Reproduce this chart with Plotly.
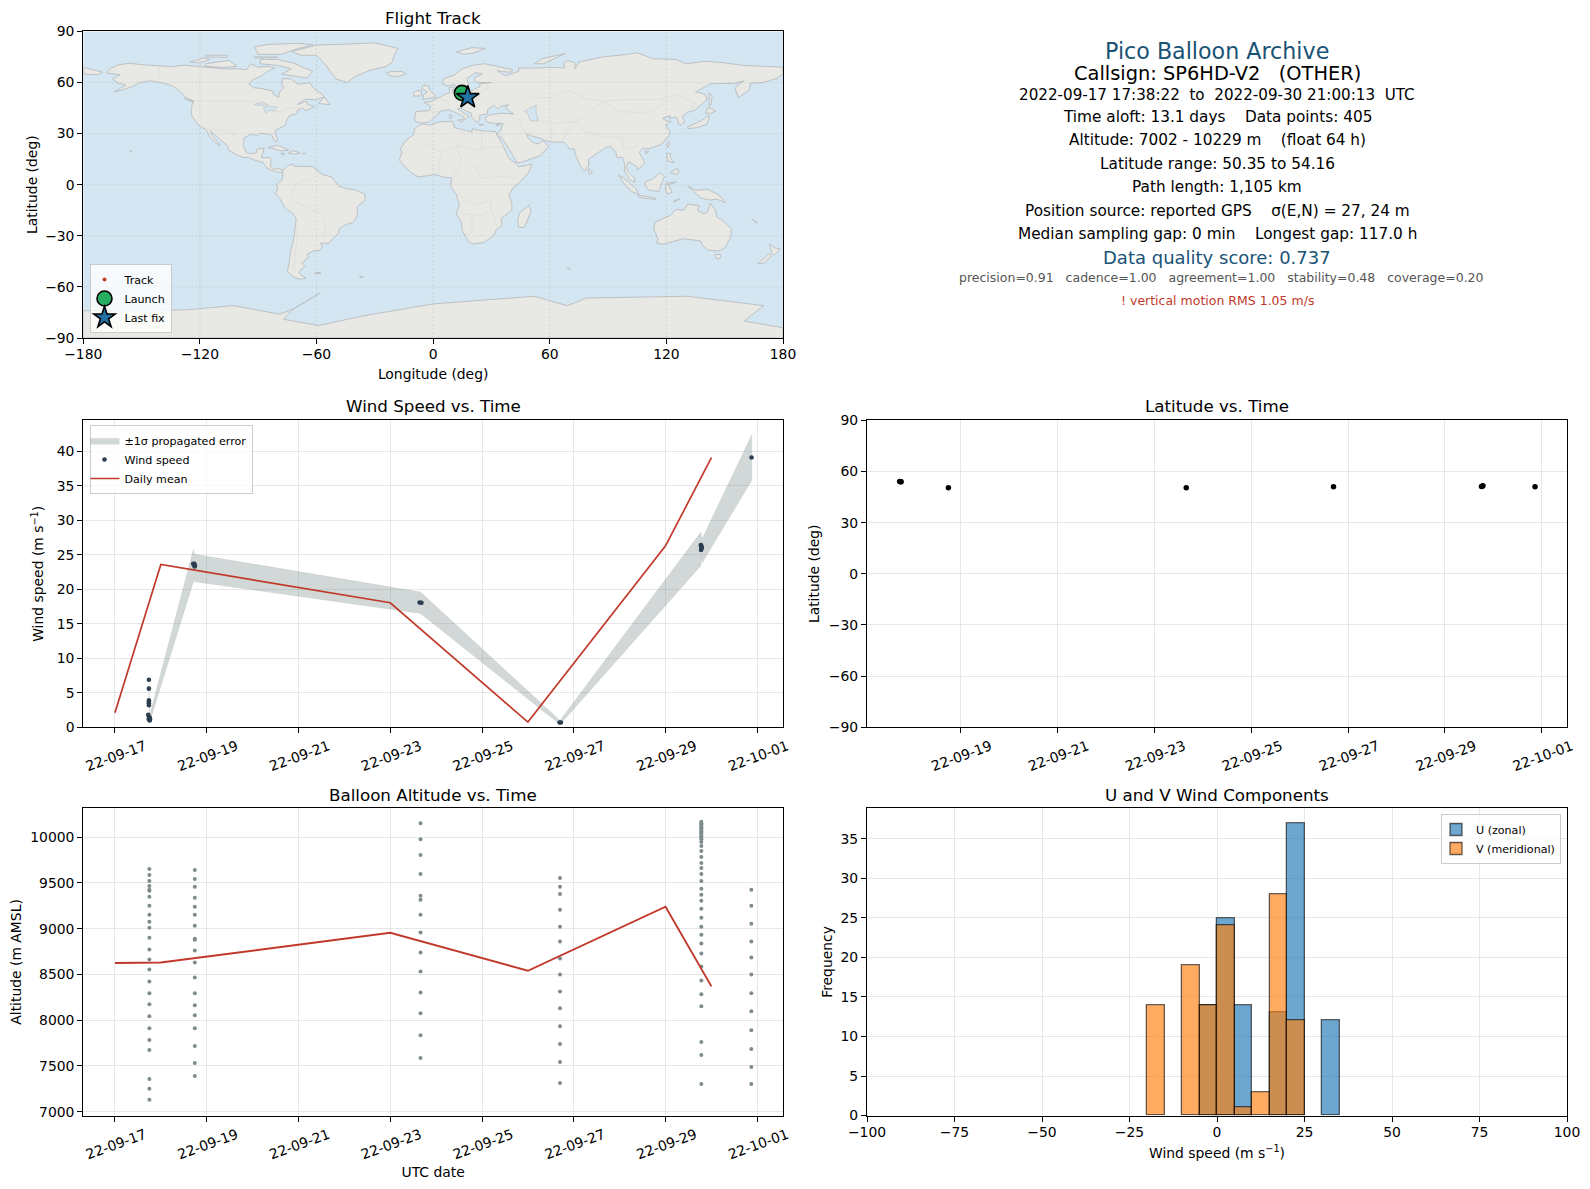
import pandas as pd
import plotly.graph_objects as go

FONT = "DejaVu Sans"
W, H = 1590, 1189
RED = "#c0392b"; NAVY = "#2c3e50"; GREY = "#7f8c8d"; BLUE = "#1a5276"
OCEAN = "#d4e6f1"; LAND = "#e8e8e4"; COAST = "#bcc1c4"; BORDER = "#dcdcd8"
GRID = "rgba(176,176,176,0.3)"

# ---------- world outlines (lon, lat) ----------
north_america = [(-168,65.6),(-166,68.3),(-162,70.3),(-156.5,71.3),(-150,70.5),(-141,69.6),(-135,69.3),(-128,70.2),(-124,69.8),(-115,68.5),(-108,68),(-100,68),(-96,67.5),(-94,71),(-90,69),(-85,69.5),(-81.5,68.5),(-86,66),(-88,64),(-93,61.5),(-94.8,59),(-92.5,57),(-88,56.4),(-82.5,55),(-82,52.8),(-79.5,51.3),(-79,54.5),(-76.8,57),(-78,59),(-77.5,62.4),(-73,62),(-69.5,59),(-65.5,59.5),(-64,60.3),(-61,56),(-57,53),(-56,51.5),(-60,50),(-66,50.2),(-70,47),(-65,49),(-64.5,47),(-61,46),(-65.5,43.5),(-67,45),(-70,43.5),(-70,41.7),(-74,40.5),(-75.5,37.5),(-76,35),(-78,33.8),(-81,32),(-81.3,30),(-80,26.8),(-80.3,25.2),(-81.8,26),(-83,29),(-85,29.7),(-89,30.2),(-90,29.1),(-94,29.5),(-97.3,27.5),(-97.7,22.5),(-96,19),(-94,18.2),(-91,18.7),(-90.5,21),(-87,21.5),(-87.8,18),(-88.5,16),(-84,15.8),(-83.3,14.8),(-83.8,11),(-82,9),(-79.5,9.5),(-77.3,8.6),(-78,7.3),(-80,7.3),(-81,7.8),(-83,8.3),(-85.7,10),(-87.5,13),(-92,14.5),(-95,16),(-98,16),(-102,18),(-105.5,20.4),(-105.5,22.5),(-109,26),(-112.8,30),(-114.7,31.7),(-114.5,30),(-112,27),(-110,24),(-109.5,23),(-112,24.7),(-115,28),(-117,32.5),(-120.5,34.5),(-122,37),(-124,40),(-124.5,43),(-124,47),(-123,49),(-127,51),(-130,54.5),(-134,58),(-140,60),(-146,61),(-151,60),(-154,58),(-160,55.5),(-164,54.6),(-158,58.5),(-162,59.5),(-165,62),(-161,64.5),(-168,65.6)]
greenland = [(-73,78.2),(-68,76),(-60,76),(-55,70),(-53,66.5),(-50,62),(-44,60),(-41,63),(-33,67),(-24,69.5),(-21,72),(-20,76),(-18,80),(-30,83.3),(-45,82.5),(-60,82),(-65,80.5),(-73,78.2)]
south_america = [(-77.3,8.6),(-75,11),(-72,12.2),(-71.5,10.8),(-68,10.8),(-62,10.7),(-60,8.5),(-57,6),(-52,4.5),(-50,1),(-48,-1),(-44,-2.5),(-40,-3),(-35.2,-5.5),(-35,-9),(-39,-13),(-39,-18),(-41,-22),(-45,-23.5),(-48.5,-26),(-48.7,-28.5),(-52,-32.5),(-54,-34.5),(-58,-34.3),(-57,-36.5),(-58,-38.5),(-62,-39),(-65,-41),(-64,-42.5),(-67.5,-46),(-66,-48),(-69,-51),(-68.5,-52.5),(-65.5,-55),(-69,-55.5),(-72,-54),(-75,-51),(-74,-45),(-73.5,-40),(-71.5,-30),(-70.5,-20),(-72,-17),(-76,-14),(-79,-8),(-81.3,-5),(-80,-2.5),(-80.5,0.5),(-78,2.5),(-77.3,5),(-77.5,7),(-77.3,8.6)]
africa = [(-6,35.8),(-2,35),(3,36.8),(10,37.3),(11,33.5),(15,32.3),(20,31),(20,32.8),(25,31.7),(32,31.2),(32.5,30),(34,27),(35.5,24),(37.3,20),(39,15.5),(43,12),(44,10.5),(51,12),(49,7),(45,2),(41,-2),(39,-6),(40.5,-11),(40.5,-15),(35,-20),(35.5,-24),(32.8,-26),(31,-30),(26,-34),(20,-34.8),(18,-33),(15,-27),(14.5,-22),(11.8,-17),(13.5,-12),(12,-6),(9,-1),(9.5,4),(6,4.3),(1,6),(-4,5.2),(-7.5,4.5),(-11,6.8),(-15,11),(-17.5,14.7),(-16,19),(-17,21),(-14,26),(-10,29.5),(-9.5,33),(-6,35.8)]
eurasia = [(-9,37),(-9.5,39),(-9,43),(-2,43.5),(-1.2,46),(-4.7,48.4),(-1.5,48.7),(1.5,50.5),(4,52),(7,53.5),(8.5,54),(8.2,57),(10.5,57.5),(10,54.5),(14,54),(19,54.5),(21,56),(24,57.5),(24,59.3),(30,60),(23,60),(21,61),(21.5,63),(25.3,65),(22,65.8),(17.5,62.5),(17.5,60.5),(18.5,59.5),(16.5,56.5),(14,55.5),(12.7,56),(11,59),(8,58),(5,59),(5,62),(11,64.5),(15,68),(20,70),(26,71),(31,70),(41,67.5),(40,66),(35,66.5),(33,67),(37,64),(40,65),(44,66.5),(44,68.5),(54,68.5),(60,69),(68,68.5),(67,71),(69,73),(73,71.5),(73,68),(75,72),(81,73.5),(87,75),(100,76.5),(105,77.5),(113,74),(125,73.5),(130,71),(140,72.5),(150,71.5),(160,70),(170,69.5),(180,69),(180,65),(177,62.5),(170,60),(163,59.5),(163,56),(162,55),(157,51),(155.5,56),(156,58),(160,61),(155,59.5),(143,59.3),(135,54.5),(140,53),(141,50),(135,44),(131,42.5),(128,40),(129.5,37),(127,34.7),(126,36.5),(126,38),(125,39.7),(121.5,39),(122,40.5),(118,39),(120,37.5),(122.5,37),(119.5,35),(122,31),(121,28),(117,23.5),(110.5,21),(108,21.5),(106,19),(109,13),(107,10.5),(105,8.7),(105,10.5),(102,12.5),(100.5,13.5),(99.5,11),(100,8),(103.5,4),(104,1.4),(101,3),(98.5,8),(98.5,12),(97.5,16),(94.5,16),(94,19),(91.5,22.5),(89,22),(86.5,20),(82,16.5),(80,15),(80,11),(77.5,8),(76,10.5),(73,18),(72.7,21),(70,21),(69,23),(67,25),(61,25),(57,26),(56,27),(51,28.5),(48,30),(48.5,28),(51,25),(54,24),(56.3,26),(59.5,22.5),(55,17),(45,13),(43,13),(39,21),(35,28),(34,27.8),(32.7,29.8),(34.5,31.5),(36,36),(32,36),(28,36.5),(26.5,39),(29,41),(35,42),(41.5,41.5),(38,44.5),(37,45.2),(39,47),(35,46),(33.5,44.5),(31,46.5),(28,44),(28,41.5),(24,40.8),(24,38),(22.5,36.5),(20,39.5),(19.5,42),(14,45),(12.5,44.5),(18.5,40),(16,38),(15.7,40),(10.5,43),(8,44),(3.3,43),(3,41.8),(0,39),(-2,36.8),(-6,36.2),(-9,37)]
chukotka = [(-180,69),(-175,67.5),(-170,66),(-173,64.5),(-180,65),(-180,69)]
australia = [(114,-22),(113.5,-26),(115.7,-32),(115,-34.3),(118,-35),(124,-33),(129,-31.7),(134,-32.5),(137.5,-33),(138.5,-35.5),(141,-38.3),(146.5,-39),(150,-37.3),(153,-31),(153.5,-26),(149,-21),(146,-19),(145.3,-15),(142.5,-11),(141,-16.5),(139,-17),(136,-15),(136.8,-12.2),(131,-11.5),(129,-15),(125,-14.5),(122,-18),(114,-22)]
antarctica = [(-180,-74),(-127,-73.5),(-103,-71),(-79,-76),(-72,-73),(-58,-63.5),(-62,-66),(-72,-73),(-77,-79),(-59,-82.7),(-36,-77),(0,-70),(52,-65.5),(69,-71),(79,-66.5),(131,-65.5),(170,-71),(160,-80),(180,-84),(180,-90),(-180,-90),(-180,-74)]
islands = [
 [(-80,73.5),(-72,71.5),(-67,69),(-62,66.5),(-65,62.5),(-71,63.5),(-78,65),(-73,68),(-80,70),(-89,71),(-89,73.5),(-80,73.5)],
 [(-117,71),(-105,73),(-101,69.5),(-108,68.8),(-117,69.5),(-117,71)],
 [(-90,76.5),(-78,76.5),(-72,79),(-62,82.3),(-70,83),(-85,82.3),(-92,81),(-90,76.5)],
 [(-125,72),(-118,74.5),(-115,73.5),(-120,71.5),(-125,72)],
 [(-92,75),(-80,75),(-80,74.5),(-92,74.5),(-92,75)],
 [(-117,76),(-106,76),(-106,74.8),(-117,75),(-117,76)],
 [(-59,47.7),(-56,51.5),(-53,47),(-59,47.7)],
 [(-128,50.8),(-124,49),(-123.5,48.5),(-128,50.8)],
 [(-85,21.8),(-80,23.2),(-74.2,20.2),(-78,19.9),(-85,21.8)],
 [(-74.4,18.5),(-72,20),(-68.4,18.6),(-71.5,17.8),(-74.4,18.5)],
 [(-78.4,18.4),(-76.3,18.2),(-77,17.7),(-78.4,18.4)],
 [(-67.2,18.5),(-65.6,18.4),(-66.5,17.9),(-67.2,18.5)],
 [(-156,20.2),(-155,19.7),(-155.7,19),(-156,20.2)],
 [(-61,-52),(-58,-51.5),(-58,-52.2),(-61,-52)],
 [(-38,-54),(-36,-54),(-36.5,-54.8),(-38,-54)],
 [(69,-49),(70.5,-49),(69.5,-49.8),(69,-49)],
 [(-5.5,50),(1.5,51.3),(0,53.5),(-2,56),(-2,57.7),(-5,58.6),(-6,56.5),(-3,54.5),(-5,53),(-5,51.7),(-5.5,50)],
 [(-10,52),(-6,52.2),(-6,55),(-8.5,55.2),(-10,54),(-10,52)],
 [(-24,65.5),(-22,64),(-18,63.4),(-14,65),(-16,66.5),(-22,66.4),(-24,65.5)],
 [(12,78),(20,80.5),(27,80),(20,77),(15,76.7),(12,78)],
 [(52,71),(56,74),(68,77),(65,75.5),(57,71),(52,71)],
 [(12.5,38),(15.5,38.2),(15,36.7),(12.5,38)],
 [(8.3,41),(9.7,41),(9.5,39),(8.5,39),(8.3,41)],
 [(23.5,35.5),(26.2,35.2),(24,34.9),(23.5,35.5)],
 [(32.3,35),(34.5,35.6),(33.5,34.6),(32.3,35)],
 [(80,9.5),(82,7),(80.5,6),(79.8,8),(80,9.5)],
 [(130.9,34),(136,36.5),(140,39),(141.5,41),(142,39),(140.8,35.5),(136,33.5),(131,33),(130.9,34)],
 [(140,42),(141.5,45.5),(145.3,43.3),(143,42),(140,42)],
 [(142,46),(142,54),(143.5,52),(143,47),(142,46)],
 [(121,25),(122,24.5),(120.8,22),(120,23.3),(121,25)],
 [(109,20),(111,19.5),(109.5,18.2),(109,20)],
 [(120.3,18.5),(122.3,18.3),(122,16),(124,13),(120.5,14),(120.3,18.5)],
 [(122,7),(125.5,9.7),(126.5,7),(125,6),(122,7)],
 [(95.3,5.6),(98,4),(104,-2),(106,-5.8),(102,-4),(98,1),(95.3,5.6)],
 [(105.5,-6.5),(108,-6.5),(114.5,-7.8),(114.5,-8.7),(106,-7.5),(105.5,-6.5)],
 [(124,-9.3),(127,-8.4),(123.6,-10.3),(124,-9.3)],
 [(109,1.5),(113,3.5),(117,7),(119,5),(117.5,0.5),(116,-4),(111,-3.3),(109,0),(109,1.5)],
 [(120,1),(125,1.5),(121,0),(123,-4.5),(120.5,-5.5),(119.5,-3),(120,1)],
 [(131,-0.8),(135,-3.3),(141,-2.6),(147,-6),(150.5,-10.5),(146,-8.5),(143,-9),(138,-8),(134,-4),(131,-0.8)],
 [(144.7,-41),(148,-41),(148,-43),(146,-43.6),(144.7,-41)],
 [(164,-20.2),(167,-22.3),(166,-22.2),(164,-20.2)],
 [(173,-34.5),(175.5,-37),(178.5,-37.8),(175.3,-41.5),(174,-39.5),(173,-34.5)],
 [(172.7,-40.6),(174,-41.7),(170.5,-46),(167,-46.3),(171,-42.5),(172.7,-40.6)],
 [(49.3,-12),(50.4,-15.5),(47,-25),(44,-25),(43.5,-21),(44.5,-16.5),(49.3,-12)],
]
lakes = [
 [(50,45),(53,46.5),(53,42),(54,37.5),(50,37.5),(49,41),(47,43),(50,45)],
 [(-92,47),(-88,48.5),(-85,47),(-87,46.5),(-92,47)],
 [(-87.5,45),(-85,46),(-80,45.5),(-82,43),(-84,44),(-86,42),(-87.5,45)],
]
borders = [
 [(-123,49),(-95,49),(-89,48),(-83,46),(-82,43),(-79,43),(-75,45),(-71,45),(-67,45)],
 [(-141,69.6),(-141,60)],
 [(-117,32.5),(-106,31.7),(-97.3,26)],
 [(-60,5),(-70,1),(-74,-7),(-69,-11),(-58,-17),(-55,-25),(-57,-30)],
 [(-70,-20),(-70,-33),(-72,-50)],
 [(-8,27),(4,19),(12,23),(25,20),(25,31.5)],
 [(25,22),(36,22)],
 [(25,12),(22,10),(24,4),(30,4),(35,5),(42,4)],
 [(12,23),(15,13),(10,4)],
 [(4,19),(3,12),(3,6)],
 [(12,-5),(22,-12),(30,-9),(30,-15),(25,-18),(12,-17)],
 [(20,-18),(20,-28),(17,-29)],
 [(30,-15),(33,-25)],
 [(50,51),(60,51),(70,55),(80,50),(87,49),(98,50),(108,50),(117,50),(125,53),(135,48),(131,43)],
 [(87,49),(80,42),(74,37),(78,31),(88,28),(97,28),(98,22),(102,21),(106,23)],
 [(87,49),(96,43),(110,42),(119,47),(117,50)],
 [(44,39),(46,33),(48,30)],
 [(61,25),(61,36),(54,38)],
 [(61,36),(74,37)],
 [(66,25),(70,33),(74,37)],
 [(-1.7,43.3),(3,42.5)],
 [(2.5,51),(8,49),(7.5,44)],
 [(14,54),(15,51),(23,50),(24,54),(28,56),(28,60)],
]

# ---------- flight data (days in September 2022) ----------
track_lon = [14.2, 14.6, 15.1, 15.6, 16.2, 16.9, 17.4, 17.8]
track_lat = [54.1, 53.9, 50.5, 50.4, 51.0, 51.4, 51.2, 51.3]
launch_lon, launch_lat = [14.8], [53.9]
last_lon, last_lat = [17.8], [51.3]

wind_days = [17.74,17.74,17.74,17.74,17.74,17.74,17.725,17.745,17.75,17.76,17.735,17.765,17.755,
             18.705,18.72,18.73,18.745,18.735,23.64,23.68,26.69,26.72,
             29.77,29.78,29.785,29.79,29.775,30.875]
wind_speed = [6.9,5.6,3.9,3.7,3.5,3.2,1.8,1.5,1.4,1.3,1.2,1.1,1.0,
              23.7,23.6,23.7,23.4,23.3,18.1,18.05,0.7,0.7,
              26.4,26.3,26.1,26.0,25.7,39.1]
band_days  = [17.74,17.755,18.71,18.72,18.735,23.66,26.70,29.77,29.78,29.795,30.88]
band_upper = [7.6,1.7,25.8,25.3,25.1,19.6,1.0,28.3,27.5,27.3,42.4]
band_lower = [6.2,0.7,21.1,21.7,21.1,16.5,0.4,23.4,24.9,23.8,35.8]
mean_wind_days = [17, 18, 23, 26, 29, 30]
mean_wind = [2.1, 23.6, 18.05, 0.75, 26.3, 39.1]

lat_days = [17.745,17.76,17.775,18.75,23.66,26.70,29.755,29.77,29.785,30.86]
lat_vals = [54.1,54.0,54.0,50.5,50.4,51.0,51.2,51.4,51.6,51.0]

alt_a = [9652,9587,9522,9467,9424,9413,9348,9250,9152,9076,9011,8902,8772,8663,8554,8424,8294,8174,8044,7913,7783,7674,7359,7250,7131]
alt_b = [9641,9543,9457,9337,9239,9152,9033,8891,8880,8761,8630,8467,8294,8163,8054,7913,7717,7533,7391]
alt_c = [10152,9978,9804,9598,9359,9315,9152,8957,8739,8533,8304,8076,7837,7587]
alt_d = [9554,9457,9380,9207,9022,8859,8674,8500,8315,8130,7935,7739,7544,7315]
alt_e = [10167,10152,10138,10123,10109,10094,10080,10065,10051,10036,10022,10007,9993,9978,9946,9902,9848,9783,9717,9663,9598,9522,9435,9370,9304,9217,9120,9022,8935,8837,8728,8587,8435,8283,8152,7761,7620,7304]
alt_f = [9424,9250,9054,8859,8685,8500,8294,8098,7891,7685,7489,7304]
alt_day_a, alt_day_b, alt_day_c, alt_day_d, alt_day_e, alt_day_f = 17.75, 18.74, 23.66, 26.70, 29.78, 30.87
mean_alt_days = [17, 18, 23, 26, 29, 30]
mean_alt = [8625, 8630, 8955, 8540, 9240, 8370]

bin_centers = [-17.5,-12.5,-7.5,-2.5,2.5,7.5,12.5,17.5,22.5,27.5,32.5]
u_counts = [None,None,None,14,25,14,None,13,37,None,12]
v_counts = [14,None,19,14,24,1,3,28,12,None,None]

tick_days = [17,19,21,23,25,27,29,31]
tick_labels = ["22-09-17","22-09-19","22-09-21","22-09-23","22-09-25","22-09-27","22-09-29","22-10-01"]
lon_ticks = [-180,-120,-60,0,60,120,180]
lat_ticks = [-90,-60,-30,0,30,60,90]

info_lines = [
 ("Pico Balloon Archive", 51.2, 22.2, BLUE, 0),
 ("Callsign: SP6HD-V2   (OTHER)", 73.5, 19.4, "black", 0),
 ("2022-09-17 17:38:22  to  2022-09-30 21:00:13  UTC", 95.5, 15.15, "black", 0),
 ("Time aloft: 13.1 days    Data points: 405", 117.5, 15.3, "black", 0),
 ("Altitude: 7002 - 10229 m    (float 64 h)", 140, 15.3, "black", 0),
 ("Latitude range: 50.35 to 54.16", 163.5, 15.3, "black", 0),
 ("Path length: 1,105 km", 187.5, 15.3, "black", 0),
 ("Position source: reported GPS    σ(E,N) = 27, 24 m", 210.5, 15.3, "black", 0),
 ("Median sampling gap: 0 min    Longest gap: 117.0 h", 233.5, 15.3, "black", 0),
 ("Data quality score: 0.737", 257.5, 18, BLUE, 0),
 ("precision=0.91   cadence=1.00   agreement=1.00   stability=0.48   coverage=0.20", 277.5, 12.5, "#555555", 4),
 ("! vertical motion RMS 1.05 m/s", 300.5, 12.5, RED, 0),
]

# ---------- helpers ----------
def t(days):
    return [pd.Timestamp("2022-09-01") + pd.to_timedelta(d - 1, "D") for d in days]

def chain(polys):
    xs, ys = [], []
    for p in polys:
        xs += [q[0] for q in p] + [None]
        ys += [q[1] for q in p] + [None]
    return xs, ys

def dx(a, b): return [a / W, b / W]
def dy(top, bottom): return [1 - bottom / H, 1 - top / H]

L_DOM, R_DOM = dx(83.3, 783), dx(867, 1567)
R1, R2, R3 = dy(31.4, 338), dy(420.3, 727.3), dy(808.3, 1115.6)

fig = go.Figure()

# --- map ---
land_x, land_y = chain([north_america, greenland, south_america, africa, eurasia, chukotka, australia, antarctica] + islands)
fig.add_trace(go.Scatter(x=land_x, y=land_y, mode="lines", fill="toself", fillcolor=LAND,
                         line=dict(color=COAST, width=1), hoverinfo="skip", showlegend=False, xaxis="x", yaxis="y"))
lake_x, lake_y = chain(lakes)
fig.add_trace(go.Scatter(x=lake_x, y=lake_y, mode="lines", fill="toself", fillcolor=OCEAN,
                         line=dict(color=COAST, width=0.7), hoverinfo="skip", showlegend=False, xaxis="x", yaxis="y"))
bx, by = chain(borders)
fig.add_trace(go.Scatter(x=bx, y=by, mode="lines", line=dict(color=BORDER, width=0.8),
                         hoverinfo="skip", showlegend=False, xaxis="x", yaxis="y"))
gx, gy = [], []
for lo in lon_ticks[1:-1]:
    gx += [lo, lo, None]; gy += [-90, 90, None]
for la in lat_ticks[1:-1]:
    gx += [-180, 180, None]; gy += [la, la, None]
fig.add_trace(go.Scatter(x=gx, y=gy, mode="lines", line=dict(color="rgba(130,130,130,0.22)", width=0.8, dash="2px,2px"),
                         hoverinfo="skip", showlegend=False, xaxis="x", yaxis="y"))
fig.add_trace(go.Scatter(x=track_lon, y=track_lat, mode="markers", name="Track", legend="legend",
                         marker=dict(color=RED, size=4), xaxis="x", yaxis="y"))
fig.add_trace(go.Scatter(x=launch_lon, y=launch_lat, mode="markers", name="Launch", legend="legend",
                         marker=dict(color="#27ae60", size=15, symbol="circle", line=dict(color="black", width=1.6)),
                         xaxis="x", yaxis="y"))
fig.add_trace(go.Scatter(x=last_lon, y=last_lat, mode="markers", name="Last fix", legend="legend",
                         marker=dict(color="#2471a3", size=17, symbol="star", line=dict(color="black", width=1.6)),
                         xaxis="x", yaxis="y"))

# --- wind speed ---
band_t = t(band_days)
fig.add_trace(go.Scatter(x=band_t + band_t[::-1], y=band_upper + band_lower[::-1], mode="lines", fill="toself",
                         fillcolor="rgba(127,140,141,0.35)", line=dict(color="rgba(127,140,141,0.2)", width=0.6),
                         name="±1σ propagated error", legend="legend2", hoverinfo="skip", xaxis="x2", yaxis="y2"))
fig.add_trace(go.Scatter(x=t(wind_days), y=wind_speed, mode="markers", name="Wind speed", legend="legend2",
                         marker=dict(color=NAVY, size=4.6), xaxis="x2", yaxis="y2"))
fig.add_trace(go.Scatter(x=t(mean_wind_days), y=mean_wind, mode="lines", name="Daily mean", legend="legend2",
                         line=dict(color=RED, width=1.7), xaxis="x2", yaxis="y2"))

# --- latitude ---
fig.add_trace(go.Scatter(x=t(lat_days), y=lat_vals, mode="markers", marker=dict(color="black", size=5.5),
                         showlegend=False, xaxis="x3", yaxis="y3"))

# --- altitude ---
alt_groups = [(alt_day_a, alt_a), (alt_day_b, alt_b), (alt_day_c, alt_c), (alt_day_d, alt_d), (alt_day_e, alt_e), (alt_day_f, alt_f)]
alt_x, alt_y = [], []
for day, vals in alt_groups:
    alt_x += [day] * len(vals)
    alt_y += vals
fig.add_trace(go.Scatter(x=t(alt_x), y=alt_y, mode="markers", marker=dict(color=GREY, size=4),
                         showlegend=False, xaxis="x4", yaxis="y4"))
fig.add_trace(go.Scatter(x=t(mean_alt_days), y=mean_alt, mode="lines", line=dict(color=RED, width=1.9),
                         showlegend=False, xaxis="x4", yaxis="y4"))

# --- histogram ---
EDGE = dict(color="rgba(0,0,0,0.6)", width=1.3)
fig.add_trace(go.Bar(x=bin_centers, y=u_counts, width=5, name="U (zonal)", legend="legend3",
                     marker=dict(color="rgba(31,119,180,0.65)", line=EDGE), xaxis="x5", yaxis="y5"))
fig.add_trace(go.Bar(x=bin_centers, y=v_counts, width=5, name="V (meridional)", legend="legend3",
                     marker=dict(color="rgba(255,127,14,0.65)", line=EDGE), xaxis="x5", yaxis="y5"))

# --- axes ---
def axis(domain, anchor, **kw):
    d = dict(domain=domain, anchor=anchor, showline=True, mirror=True, linecolor="black", linewidth=1.1,
             ticks="outside", ticklen=5, tickwidth=1.1, tickcolor="black", showgrid=True, gridcolor=GRID, gridwidth=1,
             zeroline=False, tickfont=dict(size=13.9, color="black"), automargin=False)
    d.update(kw)
    return d

def date_axis(domain, anchor, first, last, **kw):
    return axis(domain, anchor, type="date", range=[t([first])[0], t([last])[0]],
                tickvals=t(tick_days), ticktext=tick_labels, tickangle=-20, ticklabelshift=30, **kw)

layout = dict(
    width=W, height=H, margin=dict(l=0, r=0, t=0, b=0), autosize=False,
    paper_bgcolor="white", plot_bgcolor="white", barmode="overlay", bargap=0,
    font=dict(family=FONT, size=13.9, color="black"), hovermode=False,
    xaxis=axis(L_DOM, "y", range=[-180, 180], tickvals=lon_ticks, showgrid=False, ticklabelstandoff=-2,
               title=dict(text="Longitude (deg)", font=dict(size=13.9), standoff=8)),
    yaxis=axis(R1, "x", range=[-90, 90], tickvals=lat_ticks, showgrid=False,
               title=dict(text="Latitude (deg)", font=dict(size=13.9), standoff=4)),
    xaxis2=date_axis(L_DOM, "y2", 16.31, 31.56),
    yaxis2=axis(R2, "x2", range=[0, 44.5], dtick=5,
                title=dict(text="Wind speed (m s<sup>−1</sup>)", font=dict(size=13.9), standoff=9)),
    xaxis3=date_axis(R_DOM, "y3", 17.07, 31.52),
    yaxis3=axis(R2, "x3", range=[-90, 90], tickvals=lat_ticks,
                title=dict(text="Latitude (deg)", font=dict(size=13.9), standoff=5)),
    xaxis4=date_axis(L_DOM, "y4", 16.31, 31.56,
                     title=dict(text="UTC date", font=dict(size=13.9), standoff=5)),
    yaxis4=axis(R3, "x4", range=[6958, 10315], dtick=500, tick0=7000, tickformat="d",
                title=dict(text="Altitude (m AMSL)", font=dict(size=13.9), standoff=5)),
    xaxis5=axis(R_DOM, "y5", range=[-100, 100], dtick=25, ticklabelstandoff=-1,
                title=dict(text="Wind speed (m s<sup>−1</sup>)", font=dict(size=13.9), standoff=8)),
    yaxis5=axis(R3, "x5", range=[0, 38.85], dtick=5,
                title=dict(text="Frequency", font=dict(size=13.9), standoff=4)),
    legend=dict(x=89.5 / W, y=1 - 333 / H, xanchor="left", yanchor="bottom", font=dict(size=11.1), indentation=-6,
                bgcolor="rgba(255,255,255,0.8)", bordercolor="#cccccc", borderwidth=1),
    legend2=dict(x=89.5 / W, y=1 - 425 / H, xanchor="left", yanchor="top", font=dict(size=11.1), indentation=-6,
                 bgcolor="rgba(255,255,255,0.8)", bordercolor="#cccccc", borderwidth=1),
    legend3=dict(x=1561 / W, y=1 - 814 / H, xanchor="right", yanchor="top", font=dict(size=11.1), indentation=-6,
                 bgcolor="rgba(255,255,255,0.8)", bordercolor="#cccccc", borderwidth=1),
    shapes=[dict(type="rect", xref="x domain", yref="y domain", x0=0, x1=1, y0=0, y1=1,
                 fillcolor=OCEAN, line=dict(width=0), layer="below")],
)

titles = [("Flight Track", L_DOM, R1, 1.5), ("Wind Speed vs. Time", L_DOM, R2, 2.5), ("Latitude vs. Time", R_DOM, R2, 2.5),
          ("Balloon Altitude vs. Time", L_DOM, R3, 1.5), ("U and V Wind Components", R_DOM, R3, 1.5)]
ann = []
for text, xd, yd, lift in titles:
    ann.append(dict(text=text, xref="paper", yref="paper", x=sum(xd) / 2, y=yd[1], xanchor="center", yanchor="bottom",
                    yshift=lift, showarrow=False, font=dict(size=16.7, color="black")))
cx = sum(R_DOM) / 2
for text, yc, size, color, shift in info_lines:
    ann.append(dict(text=text, xref="paper", yref="paper", x=cx, y=1 - yc / H, xanchor="center", yanchor="middle",
                    xshift=shift, showarrow=False, font=dict(size=size, color=color)))
layout["annotations"] = ann
fig.update_layout(**layout)

fig.write_html("out.html", config={"displayModeBar": False},
               post_script="document.body.style.margin='0';document.body.style.overflow='hidden';")
